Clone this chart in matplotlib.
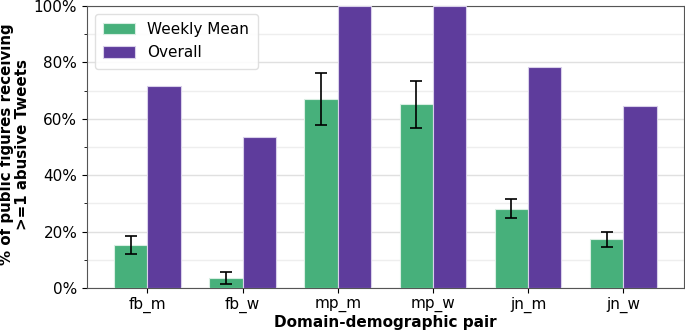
import matplotlib
matplotlib.use("Agg")
import matplotlib.pyplot as plt
import numpy as np
from matplotlib.ticker import PercentFormatter, MultipleLocator

categories = ["fb_m", "fb_w", "mp_m", "mp_w", "jn_m", "jn_w"]
weekly_mean = [15.2, 3.5, 67.0, 65.1, 28.0, 17.3]
weekly_low = [12.1, 1.4, 57.9, 56.7, 24.7, 14.6]
weekly_high = [18.4, 5.7, 76.1, 73.5, 31.4, 19.8]
overall = [71.6, 53.5, 100.0, 100.0, 78.4, 64.5]

x = np.arange(len(categories))
w = 0.35
err = [np.array(weekly_mean) - np.array(weekly_low), np.array(weekly_high) - np.array(weekly_mean)]

fig, ax = plt.subplots(figsize=(6.85, 3.3), dpi=100)
ax.bar(x - w/2, weekly_mean, w, color="#47b07b", edgecolor="#d8eee2", linewidth=0.8,
       label="Weekly Mean", yerr=err, capsize=4, error_kw=dict(ecolor="black", elinewidth=1.2, capthick=1.2), zorder=3)
ax.bar(x + w/2, overall, w, color="#5e3c9c", edgecolor="#d9d0ea", linewidth=0.8, label="Overall", zorder=3)

ax.set_ylim(0, 100)
ax.yaxis.set_major_locator(MultipleLocator(20))
ax.yaxis.set_minor_locator(MultipleLocator(10))
ax.yaxis.set_major_formatter(PercentFormatter(decimals=0))
ax.grid(axis="y", which="major", color="#e0e0e0", linewidth=1.0, zorder=0)
ax.grid(axis="y", which="minor", color="#eeeeee", linewidth=1.0, zorder=0)
ax.set_axisbelow(True)
ax.set_xticks(x)
ax.set_xticklabels(categories)
ax.tick_params(labelsize=11)
ax.tick_params(axis="x", pad=3)
for s in ax.spines.values():
    s.set_color("#555555")
ax.set_xlabel("Domain-demographic pair", fontsize=11, fontweight="bold")
ax.xaxis.set_label_coords(0.5, -0.095)
ax.set_ylabel("% of public figures receiving\n>=1 abusive Tweets", fontsize=10.8, fontweight="bold",
              linespacing=1.1)
ax.yaxis.set_label_coords(-0.096, 0.51)
ax.legend(loc="upper left", fontsize=11, fancybox=True, framealpha=0.9, edgecolor="#dddddd",
          handlelength=2.1, borderpad=0.55, handleheight=0.75, labelspacing=0.55)

fig.subplots_adjust(left=0.127, right=0.998, top=0.982, bottom=0.127)
fig.savefig("out.png", dpi=100)
